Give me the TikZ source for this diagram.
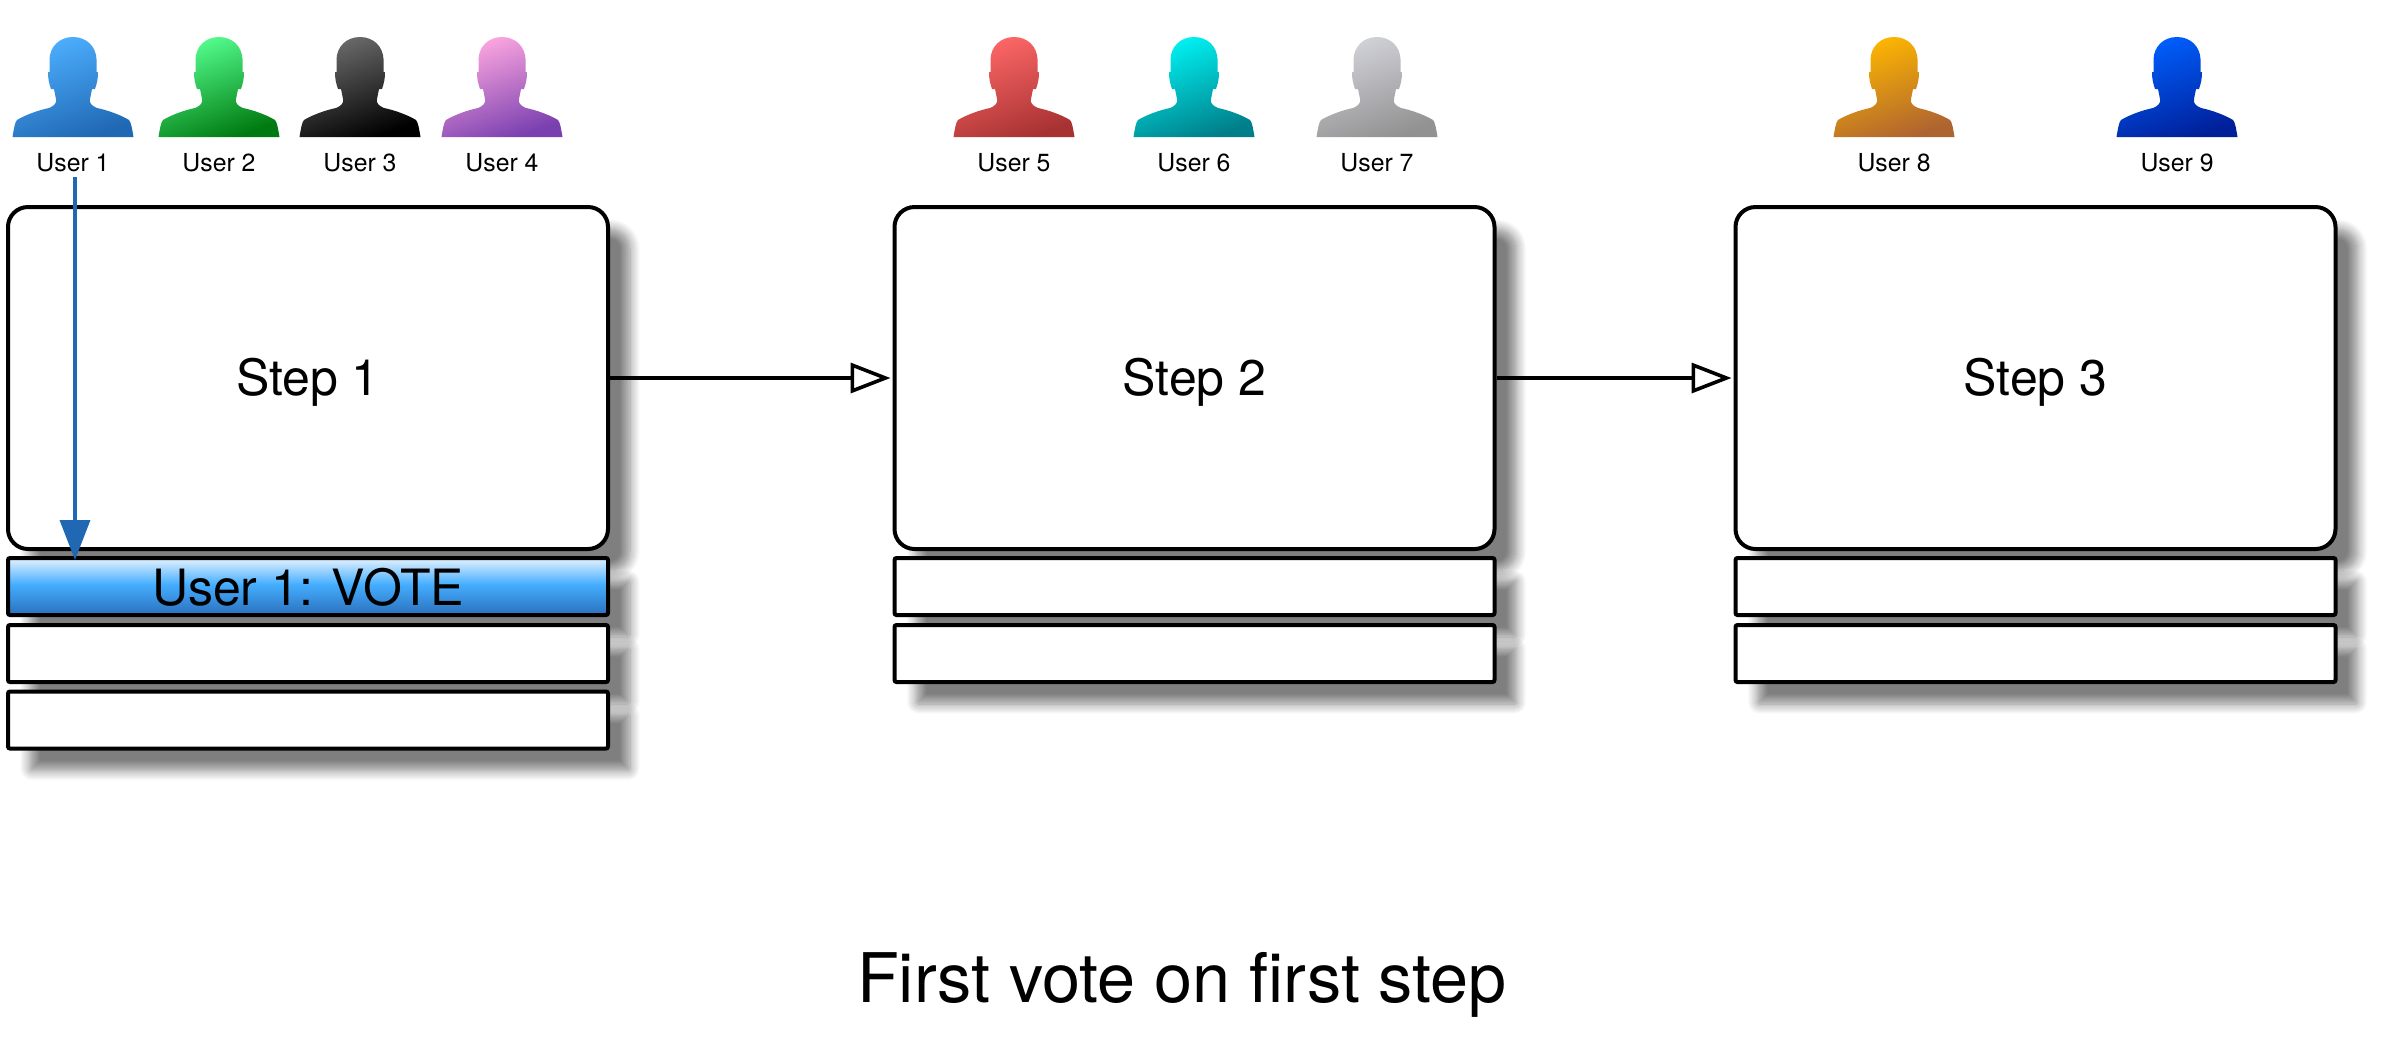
\documentclass[tikz,border=0pt]{standalone}
\usepackage{fontspec}
\setmainfont{TeX Gyre Heros}
\usetikzlibrary{arrows.meta,shadows.blur}

\definecolor{u1top}{HTML}{4DB0FF}
\definecolor{u1bot}{HTML}{2068B4}
\definecolor{u2top}{HTML}{55FF90}
\definecolor{u2bot}{HTML}{007A10}
\definecolor{u3top}{HTML}{6C6C6C}
\definecolor{u3bot}{HTML}{000000}
\definecolor{u4top}{HTML}{FFA8E0}
\definecolor{u4bot}{HTML}{7A40B0}
\definecolor{u5top}{HTML}{FF6868}
\definecolor{u5bot}{HTML}{A83232}
\definecolor{u6top}{HTML}{00F4F4}
\definecolor{u6bot}{HTML}{007F8A}
\definecolor{u7top}{HTML}{D2D2DA}
\definecolor{u7bot}{HTML}{929292}
\definecolor{u8top}{HTML}{FFB800}
\definecolor{u8bot}{HTML}{AE6430}
\definecolor{u9top}{HTML}{0060FF}
\definecolor{u9bot}{HTML}{00209A}
\definecolor{vote1}{HTML}{E4F2FF}
\definecolor{vote2}{HTML}{45AEFF}
\definecolor{vote3}{HTML}{2A70BD}

\pgfdeclareverticalshading{voteshade}{100bp}{color(0bp)=(vote3); color(25bp)=(vote3); color(52bp)=(vote2); color(75bp)=(vote1); color(100bp)=(vote1)}

\tikzset{
  pics/user/.style n args={2}{code={
    \shade[top color=#1,bottom color=#2,shading angle=20]
      (-60.5,0) .. controls (-59,-9) and (-58,-15) .. (-56,-17)
      .. controls (-48,-22) and (-34,-27) .. (-24,-29)
      .. controls (-19,-31) and (-16,-34) .. (-17,-38)
      -- (-19,-48) -- (-22,-48) .. controls (-24,-54) and (-25,-58) .. (-25,-65)
      -- (-23.5,-65) -- (-23.5,-78) .. controls (-23,-90) and (-14,-100) .. (0,-100)
      .. controls (14,-100) and (23,-90) .. (23.5,-78)
      -- (23.5,-65) -- (25,-65) .. controls (25,-58) and (24,-54) .. (22,-48)
      -- (19,-48) -- (17,-38)
      .. controls (16,-34) and (19,-31) .. (24,-29)
      .. controls (34,-27) and (48,-22) .. (56,-17)
      .. controls (58,-15) and (59,-9) .. (60.5,0) -- cycle;
  }},
  stepbox/.style={draw,line width=2pt,rounded corners=10pt,fill=white,
    minimum width=300pt,minimum height=171pt,inner sep=0pt,text depth=1.5pt,font=\fontsize{25}{30}\selectfont,
    blur shadow={shadow xshift=11pt,shadow yshift=-11pt,shadow opacity=50,shadow blur steps=10,shadow blur radius=5pt}},
  slotbox/.style={stepbox,rounded corners=1pt,minimum height=28.5pt,text depth=0pt},
  votebox/.style={slotbox,shading=voteshade,shading angle=0},
  username/.style={font=\fontsize{12.4}{14}\selectfont,inner sep=0pt},
  nextarrow/.style={line width=1.8pt,shorten >=1pt,-{Triangle[open,fill=white,length=20pt,width=15pt,line width=1.8pt]}},
  votearrow/.style={line width=1.8pt,draw=u1bot,-{Triangle[length=20pt,width=15pt,fill=u1bot]}},
}

\begin{document}
\begin{tikzpicture}[x=0.5pt,y=-0.5pt]
\useasboundingbox (0,0) rectangle (2383,1041);

\foreach \i/\xpos in {1/73,2/219,3/360,4/502,5/1014,6/1194,7/1377,8/1894,9/2177} {
  \pic at (\xpos,137) {user={u\i top}{u\i bot}};
  \node[username] (user\i) at (\xpos,163) {User \i};
}

\foreach \s/\xpos in {1/308,2/1194.5,3/2035.5} {
  \node[stepbox] (step\s) at (\xpos,378) {Step \s};
}
\node[votebox] (vote1) at (308,586.5) {User 1: VOTE};
\node[slotbox] (slot12) at (308,653.5) {};
\node[slotbox] (slot13) at (308,720) {};
\node[slotbox] (slot21) at (1194.5,586.5) {};
\node[slotbox] (slot22) at (1194.5,653.5) {};
\node[slotbox] (slot31) at (2035.5,586.5) {};
\node[slotbox] (slot32) at (2035.5,653.5) {};

\draw[nextarrow] (step1) -- (step2);
\draw[nextarrow] (step2) -- (step3);

\coordinate (votefrom) at (75,177);
\coordinate (voteto) at (75,560);
\draw[votearrow] (votefrom) -- (voteto);

\node[inner sep=0pt,font=\fontsize{34.2}{40}\selectfont] (caption) at (1182,985) {First vote on first step};
\end{tikzpicture}
\end{document}
